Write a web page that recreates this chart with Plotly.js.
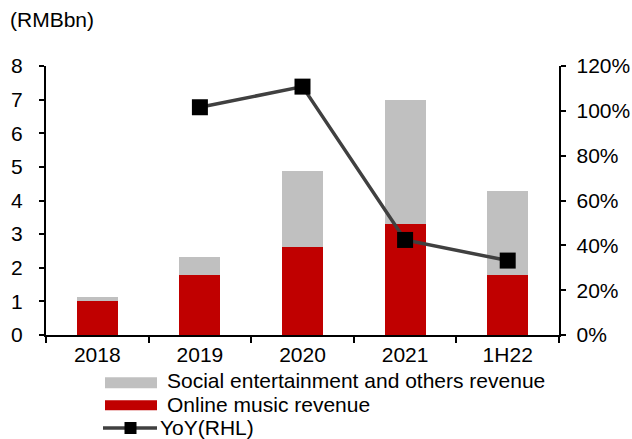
<!DOCTYPE html>
<html>
<head>
<meta charset="utf-8">
<script src="https://cdn.plot.ly/plotly-3.0.1.min.js"></script>
<style>html,body{margin:0;padding:0;background:#fff;}#chart{width:632px;height:439px;}</style>
</head>
<body>
<div id="chart"></div>
<script>
var categories = ["2018", "2019", "2020", "2021", "1H22"];
var onlineMusic = [1.02, 1.77, 2.62, 3.29, 1.78];
var socialEnt = [0.12, 0.55, 2.26, 3.70, 2.49];
var yoyCategories = ["2019", "2020", "2021", "1H22"];
var yoy = [1.016, 1.108, 0.424, 0.332];
var leftTicks = [0, 1, 2, 3, 4, 5, 6, 7, 8];
var rightTicks = [0, 0.2, 0.4, 0.6, 0.8, 1.0, 1.2];
var legendNames = ["Social entertainment and others revenue", "Online music revenue", "YoY(RHL)"];

var RED = "#C00000", GREY = "#C0C0C0", LINE = "#404040";
var font = {family: "Liberation Sans, Arial, sans-serif", size: 21, color: "#000"};

var traces = [
  {type: "bar", name: legendNames[1], x: categories, y: onlineMusic, marker: {color: RED}},
  {type: "bar", name: legendNames[0], x: categories, y: socialEnt, marker: {color: GREY}},
  {type: "scatter", mode: "lines+markers", name: legendNames[2], x: yoyCategories, y: yoy, yaxis: "y2",
   line: {color: LINE, width: 3.5},
   marker: {symbol: "square", size: 16, color: "#000"}}
];

// geometry: paper spans x 46..632, plot area ends at 559 (right axis)
var L = 46, T = 66, PAPERW = 632 - L, PW = 513, PH = 269;
function px(x) { return (x - L) / PAPERW; }
function py(y) { return (T + PH - y) / PH; }
var rows = [382.8, 405.3, 428];
var textRows = [380.8, 404, 427.2];
var textX = [167, 167, 160];
var shapes = [
  {type: "rect", xref: "paper", yref: "paper", x0: px(105), x1: px(157), y0: py(rows[0] + 5.5), y1: py(rows[0] - 5.5),
   fillcolor: GREY, line: {width: 0}},
  {type: "rect", xref: "paper", yref: "paper", x0: px(105), x1: px(157), y0: py(rows[1] + 5), y1: py(rows[1] - 5),
   fillcolor: RED, line: {width: 0}},
  {type: "line", xref: "paper", yref: "paper", x0: px(103), x1: px(157), y0: py(rows[2]), y1: py(rows[2]),
   line: {color: LINE, width: 3.5}},
  {type: "rect", xref: "paper", yref: "paper", x0: px(124.5), x1: px(136.5), y0: py(rows[2] + 6), y1: py(rows[2] - 6),
   fillcolor: "#000", line: {width: 0}}
];
var annotations = [
  {text: "(RMBbn)", xref: "paper", yref: "paper", x: px(8), y: py(20),
   xanchor: "left", yanchor: "middle", showarrow: false, font: font}
];
for (var i = 0; i < legendNames.length; i++) {
  annotations.push({text: legendNames[i], xref: "paper", yref: "paper", x: px(textX[i] - 2), y: py(textRows[i]),
    xanchor: "left", yanchor: "middle", showarrow: false, font: font});
}

var layout = {
  width: 632, height: 439,
  margin: {l: L, r: 0, t: T, b: 439 - T - PH, autoexpand: false},
  paper_bgcolor: "#fff", plot_bgcolor: "#fff",
  barmode: "stack", bargap: 0.6,
  font: font,
  showlegend: false,
  xaxis: {type: "category", categoryarray: categories, categoryorder: "array", domain: [0, PW / PAPERW],
          showline: true, linecolor: "#000", linewidth: 2,
          ticks: "outside", tickson: "boundaries", ticklen: 6, tickcolor: "#000", tickwidth: 2,
          showgrid: false, zeroline: false, tickfont: font, range: [-0.5, 4.5]},
  yaxis: {range: [0, 8], tickvals: leftTicks, showline: true, linecolor: "#000", linewidth: 2,
          ticks: "outside", ticklen: 5, tickcolor: "#000", tickwidth: 2,
          showgrid: false, zeroline: false, tickfont: font, ticklabelstandoff: 12},
  yaxis2: {range: [0, 1.2], tickvals: rightTicks, overlaying: "y", side: "right", anchor: "x",
           showticklabels: false,
           showline: true, linecolor: "#000", linewidth: 2,
           ticks: "outside", ticklen: 5, tickcolor: "#000", tickwidth: 2,
           showgrid: false, zeroline: false},
  yaxis3: {range: [0, 1.2], tickvals: rightTicks, tickformat: ".0%", overlaying: "y", side: "right",
           anchor: "free", position: px(575.5),
           showline: false, ticks: "", showgrid: false, zeroline: false, tickfont: font},
  shapes: shapes,
  annotations: annotations
};

// an empty trace keeps the label axis (yaxis3) drawn
traces.push({type: "scatter", x: [], y: [], yaxis: "y3", showlegend: false, hoverinfo: "skip"});

Plotly.newPlot("chart", traces, layout, {displayModeBar: false, staticPlot: true});
</script>
</body>
</html>
